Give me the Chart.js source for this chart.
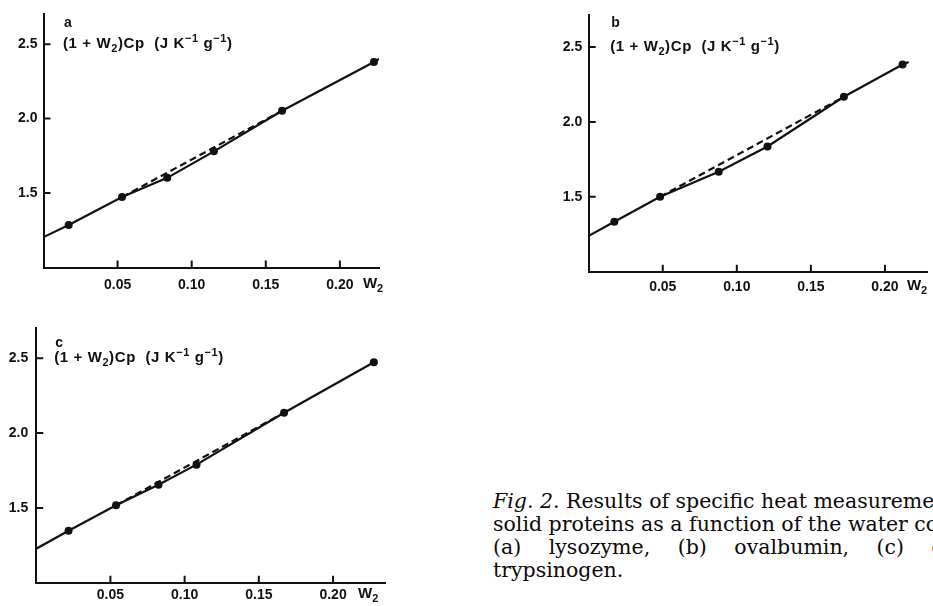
<!DOCTYPE html>
<html><head><meta charset="utf-8">
<script src="https://cdn.jsdelivr.net/npm/chart.js@4"></script>
<style>
html,body{margin:0;padding:0;background:#fff;width:933px;height:606px;overflow:hidden;position:relative}
canvas{position:absolute}
.cap{position:absolute;left:493px;top:490px;font-family:"DejaVu Serif",serif;font-size:20.5px;line-height:23px;color:#0a0a0a}
.cap div{white-space:nowrap}
.cap div.just{word-spacing:21px}
</style></head>
<body>
<canvas id="pa" width="430" height="300" style="left:0;top:0"></canvas>
<canvas id="pb" width="393" height="300" style="left:540px;top:0"></canvas>
<canvas id="pc" width="430" height="296" style="left:0;top:310px"></canvas>
<div class="cap">
<div><i>Fig</i>. <i>2</i>. Results of specific heat measurements on</div>
<div>solid proteins as a function of the water content:</div>
<div class="just">(a) lysozyme, (b) ovalbumin, (c) chymo-</div>
<div>trypsinogen.</div>
</div>
<script>
// ---- shared tick values / labels ----
const xTickValues = [0.05, 0.10, 0.15, 0.20];
const xTickLabels = ['0.05', '0.10', '0.15', '0.20'];
const yTickValues = [1.5, 2.0, 2.5];
const yTickLabels = ['1.5', '2.0', '2.5'];
const panelLetters = ['a', 'b', 'c'];

// ---- panel a (lysozyme) ----
const aPointW = [0.017, 0.053, 0.0835, 0.115, 0.161, 0.223];
const aPointC = [1.285, 1.473, 1.602, 1.780, 2.053, 2.380];
const aSolidW = [0, 0.017, 0.053, 0.0835, 0.115, 0.161, 0.223, 0.2264];
const aSolidC = [1.204, 1.285, 1.473, 1.602, 1.780, 2.053, 2.380, 2.400];
const aDashW = [0.053, 0.161];
const aDashC = [1.473, 2.053];

// ---- panel b (ovalbumin) ----
const bPointW = [0.0173, 0.0482, 0.0878, 0.1207, 0.1723, 0.2119];
const bPointC = [1.334, 1.500, 1.668, 1.836, 2.168, 2.383];
const bSolidW = [0, 0.0173, 0.0482, 0.0878, 0.1207, 0.1723, 0.2119, 0.216];
const bSolidC = [1.239, 1.334, 1.500, 1.668, 1.836, 2.168, 2.383, 2.400];
const bDashW = [0.0482, 0.1723];
const bDashC = [1.500, 2.168];

// ---- panel c (chymotrypsinogen) ----
const cPointW = [0.0218, 0.0538, 0.0824, 0.108, 0.167, 0.2275];
const cPointC = [1.347, 1.517, 1.655, 1.789, 2.136, 2.473];
const cSolidW = [0, 0.0218, 0.0538, 0.0824, 0.108, 0.167, 0.2275];
const cSolidC = [1.227, 1.347, 1.517, 1.655, 1.789, 2.136, 2.473];
const cDashW = [0.0538, 0.167];
const cDashC = [1.517, 2.136];

const zip = (xs, ys) => xs.map((x, i) => ({x: x, y: ys[i]}));
const TICK_FONT = {family: '"Liberation Sans", Arial, sans-serif', size: 14, weight: 'bold'};
const INK = '#111';

function drawRich(ctx, x, y, segs, size, spacing) {
  ctx.save();
  ctx.textBaseline = 'middle';
  ctx.textAlign = 'left';
  ctx.fillStyle = INK;
  if ('letterSpacing' in ctx) ctx.letterSpacing = (spacing || 0) + 'px';
  let cx = x;
  segs.forEach(s => {
    const sz = s.small ? Math.round(size * 0.72) : size;
    ctx.font = 'bold ' + sz + 'px "Liberation Sans", Arial, sans-serif';
    ctx.fillText(s.t, cx, y + (s.dy || 0));
    cx += ctx.measureText(s.t).width;
  });
  ctx.restore();
}

const ylabelSegs = [
  {t: '(1 + W'}, {t: '2', dy: 5, small: true}, {t: ')Cp  (J K'},
  {t: '\u22121', dy: -5, small: true}, {t: ' g'}, {t: '\u22121', dy: -5, small: true}, {t: ')'}
];

function makePanel(id, p) {
  const canvas = document.getElementById(id);
  const decor = {
    id: 'decor',
    afterDraw(chart) {
      const ctx = chart.ctx, a = chart.chartArea;
      const xs = chart.scales.x, ys = chart.scales.y;
      ctx.save();
      ctx.strokeStyle = INK;
      ctx.lineWidth = 2;
      ctx.beginPath();
      xTickValues.forEach(v => {
        const px = xs.getPixelForValue(v);
        ctx.moveTo(px, a.bottom); ctx.lineTo(px, a.bottom - 7);
      });
      yTickValues.forEach(v => {
        const py = ys.getPixelForValue(v);
        ctx.moveTo(a.left, py); ctx.lineTo(a.left + 7, py);
      });
      ctx.stroke();
      const y25 = ys.getPixelForValue(yTickValues[2]);
      // panel letter
      ctx.fillStyle = INK;
      ctx.font = 'bold 14px "Liberation Sans", Arial, sans-serif';
      ctx.textBaseline = 'middle';
      ctx.fillText(p.letter, a.left + p.labelDx + 1, y25 - p.letterDy);
      drawRich(ctx, a.left + p.labelDx, y25, ylabelSegs, 15, 0.6);
      // W2 axis label
      const lblY = a.bottom + p.xPad + 7;
      drawRich(ctx, xs.getPixelForValue(xTickValues[3]) + p.wDx, lblY, [{t: 'W'}, {t: '2', dy: 5, small: true}], 15, 0);
      ctx.restore();
    }
  };
  return new Chart(canvas, {
    type: 'scatter',
    data: {
      datasets: [
        {data: zip(p.solidW, p.solidC), showLine: true, borderColor: INK, borderWidth: 2.2, pointRadius: 0, fill: false},
        {data: zip(p.dashW, p.dashC), showLine: true, borderColor: INK, borderWidth: 2.2, borderDash: [7, 4], pointRadius: 0, fill: false},
        {data: zip(p.pointW, p.pointC), showLine: false, pointRadius: 4, pointBackgroundColor: INK, pointBorderColor: INK, pointBorderWidth: 0}
      ]
    },
    options: {
      responsive: false, animation: false,
      layout: {padding: {left: 0, top: p.top, right: p.right, bottom: 0}},
      plugins: {legend: {display: false}, tooltip: {enabled: false}},
      scales: {
        x: {
          type: 'linear', min: 0, max: p.xmax,
          grid: {display: false, drawTicks: false},
          border: {display: true, color: INK, width: 2},
          afterBuildTicks: s => { s.ticks = xTickValues.map(v => ({value: v})); },
          afterFit: s => { s.height = p.xh; },
          ticks: {color: INK, font: TICK_FONT, padding: p.xPad, maxRotation: 0, autoSkip: false,
                  callback: (v) => xTickLabels[xTickValues.indexOf(v)]}
        },
        y: {
          type: 'linear', min: 1.0, max: p.ymax,
          grid: {display: false, drawTicks: false},
          border: {display: true, color: INK, width: 2},
          afterBuildTicks: s => { s.ticks = yTickValues.map(v => ({value: v})); },
          afterFit: s => { s.width = p.yw; },
          ticks: {color: INK, font: TICK_FONT, padding: p.yPad, autoSkip: false,
                  callback: (v) => yTickLabels[yTickValues.indexOf(v)]}
        }
      }
    },
    plugins: [decor]
  });
}

makePanel('pa', {letter: panelLetters[0], pointW: aPointW, pointC: aPointC, solidW: aSolidW, solidC: aSolidC, dashW: aDashW, dashC: aDashC,
  top: 13, right: 51, xh: 32.5, yw: 43.5, xmax: 0.2264, ymax: 2.7, xPad: 9, yPad: 6, labelDx: 19.5, letterDy: 21, wDx: 23});
makePanel('pb', {letter: panelLetters[1], pointW: bPointW, pointC: bPointC, solidW: bSolidW, solidC: bSolidC, dashW: bDashW, dashC: bDashC,
  top: 13.3, right: 6, xh: 28.3, yw: 48.7, xmax: 0.2284, ymax: 2.715, xPad: 7, yPad: 6.5, labelDx: 21.5, letterDy: 24, wDx: 22});
makePanel('pc', {letter: panelLetters[2], pointW: cPointW, pointC: cPointC, solidW: cSolidW, solidC: cSolidC, dashW: cDashW, dashC: cDashC,
  top: 18.3, right: 45, xh: 23.3, yw: 36.2, xmax: 0.235, ymax: 2.7, xPad: 4, yPad: 8, labelDx: 18, letterDy: 15, wDx: 25});
</script>
</body></html>
